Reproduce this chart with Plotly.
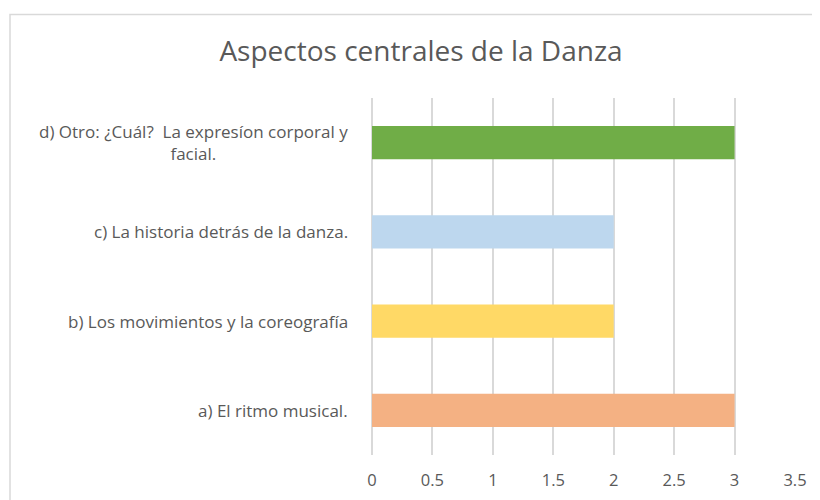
import plotly.graph_objects as go

categories = [
    "a) El ritmo musical.",
    "b) Los movimientos y la coreografía",
    "c) La historia detrás de la danza.",
    "d) Otro: ¿Cuál?  La expresíon corporal y<br>facial.",
]
values = [3, 2, 2, 3]
colors = ["#F4B183", "#FFD966", "#BDD7EE", "#70AD47"]
x_ticks = [0, 0.5, 1, 1.5, 2, 2.5, 3, 3.5]

W, H = 820, 500
OFF = 8  # page body offset
L, R, T, B = 372 - OFF, 820 - 795 + OFF, 98 - OFF, 500 - 455 + OFF
FONT = "Open Sans, sans-serif"
GREY = "#595959"

fig = go.Figure(go.Bar(
    y=categories, x=values, orientation="h",
    marker=dict(color=colors, line=dict(width=0)),
    width=0.37,
))

for c in categories:
    fig.add_annotation(
        x=0, xref="paper", y=c, yref="y", text=c, showarrow=False,
        xanchor="right", xshift=-22, align="center",
        font=dict(family=FONT, size=17, color=GREY),
    )

pw = W - L - R
ph = H - T - B
fig.add_shape(
    type="rect", xref="paper", yref="paper",
    x0=(10 - OFF - L) / pw, x1=(W + 20 - L) / pw,
    y0=-(B + 20) / ph, y1=1 + (T - (14.5 - OFF)) / ph,
    line=dict(color="#D9D9D9", width=1.5), fillcolor="rgba(0,0,0,0)",
    layer="below",
)

fig.update_layout(
    width=W, height=H,
    margin=dict(l=L, r=R, t=T, b=B),
    paper_bgcolor="white", plot_bgcolor="white",
    title=dict(text="Aspectos centrales de la Danza", x=(421 - OFF) / W, xref="container",
               xanchor="center", y=1 - (51 - OFF) / H, yref="container", yanchor="middle",
               font=dict(family=FONT, size=28, color=GREY)),
    showlegend=False,
    xaxis=dict(range=[0, 3.5], tickvals=x_ticks,
               ticktext=[("%g" % v) for v in x_ticks],
               showgrid=True, gridcolor="#D9D9D9", gridwidth=1.5,
               zeroline=True, zerolinecolor="#D9D9D9", zerolinewidth=1.5,
               showline=False, ticks="", ticklabelstandoff=13,
               tickfont=dict(family=FONT, size=16.5, color=GREY),
               fixedrange=True),
    yaxis=dict(categoryorder="array", categoryarray=categories,
               showticklabels=False, showgrid=False, ticks="", showline=False,
               fixedrange=True),
)

fig.write_html("out.html")
